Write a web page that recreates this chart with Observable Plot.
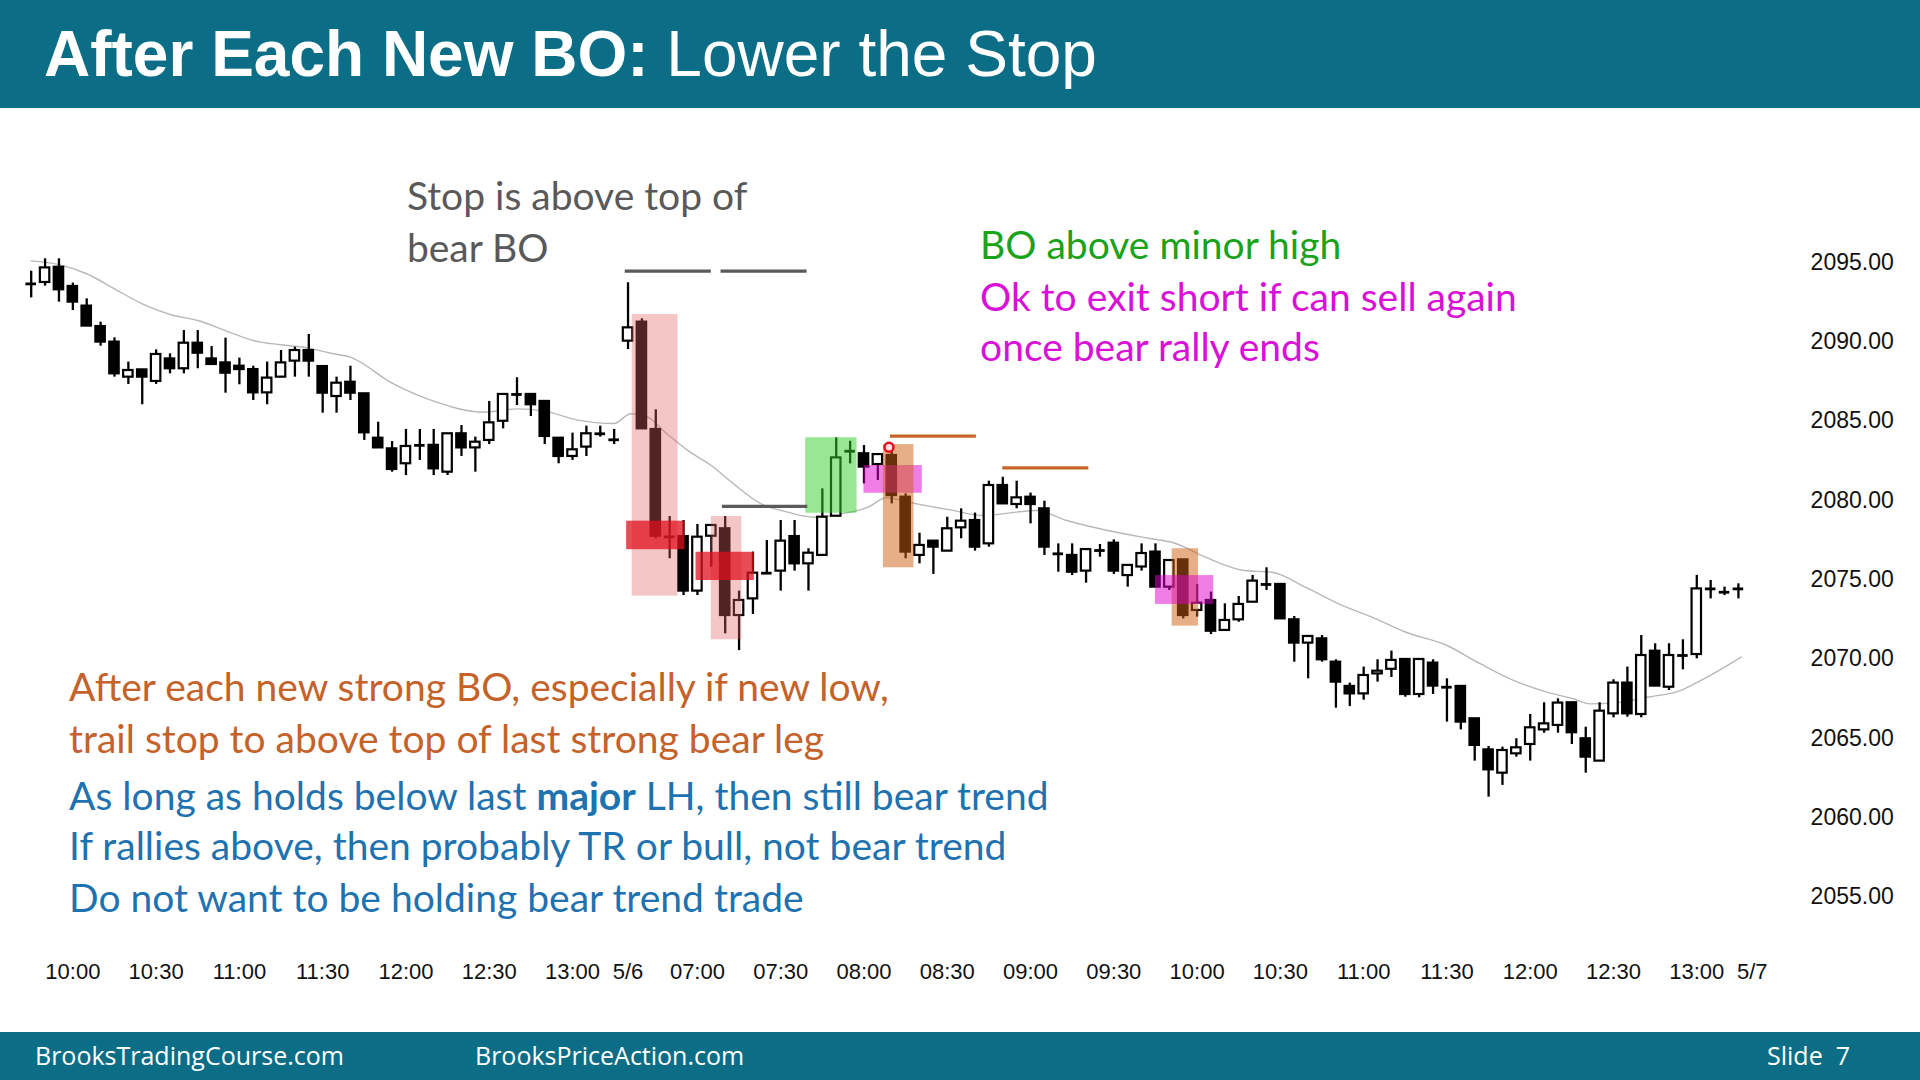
<!DOCTYPE html>
<html>
<head>
<meta charset="utf-8">
<script src="https://cdn.jsdelivr.net/npm/d3@7"></script>
<script src="https://cdn.jsdelivr.net/npm/@observablehq/plot@0.6"></script>
<style>
  html, body { margin: 0; padding: 0; width: 1920px; height: 1080px; overflow: hidden; background: #fff; }
  #title { position: absolute; left: 0; top: 0; width: 1920px; height: 108px; background: #0b6e86;
           color: #fff; font-family: "Liberation Sans", Arial, sans-serif; font-size: 64px;
           display: flex; align-items: center; box-sizing: border-box; padding-left: 44px; white-space: pre; }
  #title b { font-weight: bold; }
  #chart { position: absolute; left: 0; top: 108px; width: 1920px; height: 920px; }
  #footer { position: absolute; left: 0; top: 1032px; width: 1920px; height: 48px; background: #0b6e86;
            color: #fff; font-family: "Open Sans", sans-serif; font-size: 25px; }
  #footer span { position: absolute; top: 50%; transform: translateY(-54%); white-space: pre; }
</style>
</head>
<body>
<div id="title"><b>After Each New BO:</b> Lower the Stop</div>
<div id="chart"></div>
<div id="footer">
  <span style="left:35px">BrooksTradingCourse.com</span>
  <span style="left:475px">BrooksPriceAction.com</span>
  <span style="left:1767px">Slide  7</span>
</div>
<script>
// ---- OHLC of 5-minute bars (bar index 0..123) ----
const opens = [
  2093.65,2093.74,2094.70,2093.49,2092.25,2090.96,2089.98,2087.77,2088.23,2087.50,
  2088.92,2088.30,2089.91,2088.92,2088.67,2088.46,2088.25,2086.78,2087.77,2088.78,
  2089.45,2088.44,2086.55,2087.45,2086.72,2083.92,2083.25,2082.31,2083.47,2083.47,
  2081.78,2084.20,2083.31,2083.78,2084.99,2086.68,2086.68,2086.24,2083.92,2082.77,
  2083.36,2084.20,2083.82,
  2090.04,2091.24,2084.47,2077.70,2077.72,2074.28,2077.74,2078.21,2072.74,2073.79,
  2075.41,2075.54,2077.72,2076.00,2076.53,2079.00,2083.10,2082.94,2082.26,2082.83,
  2080.20,2076.53,2077.43,2076.80,2078.27,2078.73,2077.26,2080.94,2079.74,2080.20,
  2079.47,2076.63,2076.53,2075.54,2076.84,2077.30,2075.26,2075.80,2076.74,2074.53,
  2076.25,2073.06,2073.69,2071.80,2072.47,2073.58,2074.70,2074.70,2072.47,2071.00,
  2071.27,2069.80,2068.27,2067.80,2069.06,2069.35,2069.97,2067.76,2069.74,2068.22,
  2068.27,2066.23,2064.27,2062.80,2064.02,2064.61,2065.53,2065.81,2067.24,2064.97,
  2063.56,2066.54,2068.48,2066.50,2070.49,2068.22,2070.22,2070.28,2074.42,2074.21,
  2074.42
];
const highs = [
  2094.45,2095.23,2095.23,2093.70,2092.71,2091.24,2090.25,2088.72,2088.23,2089.49,
  2089.24,2090.71,2090.71,2089.70,2090.23,2088.97,2088.46,2088.72,2089.45,2089.66,
  2090.46,2088.44,2087.77,2088.46,2086.72,2084.93,2083.71,2084.47,2084.47,2084.47,
  2084.20,2084.72,2083.99,2086.24,2086.68,2087.73,2086.68,2086.24,2083.92,2084.24,
  2084.68,2084.68,2084.47,
  2093.72,2091.45,2085.71,2078.98,2078.73,2078.48,2078.42,2078.98,2074.28,2076.74,
  2077.47,2078.73,2078.73,2076.95,2080.73,2083.94,2083.73,2083.46,2082.89,2083.10,
  2080.41,2077.93,2077.43,2078.94,2079.47,2079.20,2081.21,2081.46,2081.21,2080.46,
  2079.95,2077.26,2077.26,2076.90,2077.22,2077.51,2075.90,2077.26,2077.26,2076.21,
  2076.25,2074.70,2074.22,2073.48,2073.94,2075.27,2075.75,2074.70,2072.68,2071.42,
  2071.48,2069.95,2068.48,2069.49,2069.95,2070.50,2069.97,2069.97,2069.95,2068.75,
  2068.27,2066.23,2064.48,2064.44,2064.97,2066.50,2067.24,2067.49,2067.24,2065.70,
  2067.24,2068.69,2069.49,2071.48,2070.96,2070.96,2071.21,2075.27,2074.95,2074.53,
  2074.74
];
const lows = [
  2092.77,2093.51,2092.50,2091.97,2090.99,2089.72,2087.77,2087.31,2086.03,2087.31,
  2087.98,2087.98,2088.30,2088.57,2086.76,2087.29,2086.30,2086.03,2087.77,2087.77,
  2087.77,2085.50,2085.50,2086.30,2083.78,2083.31,2081.78,2081.57,2082.52,2081.57,
  2081.57,2082.77,2081.78,2083.52,2084.51,2085.98,2085.29,2083.52,2082.31,2082.52,
  2082.77,2083.99,2083.52,
  2089.51,2084.51,2077.58,2076.32,2074.00,2074.00,2075.79,2071.59,2070.53,2072.81,
  2075.41,2074.28,2075.54,2074.28,2076.53,2079.00,2082.30,2081.04,2081.26,2079.78,
  2076.32,2076.00,2075.33,2076.80,2077.58,2076.80,2077.05,2079.78,2079.47,2078.52,
  2076.53,2075.47,2075.26,2074.78,2076.42,2075.33,2074.53,2075.54,2074.53,2074.32,
  2072.53,2072.64,2071.54,2071.80,2072.32,2073.58,2074.32,2072.53,2069.80,2068.75,
  2069.80,2066.90,2067.00,2067.40,2068.54,2068.83,2067.59,2067.55,2067.76,2066.02,
  2065.53,2063.56,2061.29,2062.03,2063.81,2063.56,2065.32,2065.32,2064.61,2062.80,
  2063.56,2066.29,2066.33,2066.29,2068.29,2068.01,2069.32,2070.01,2073.79,2074.00,
  2073.79
];
const closes = [
  2093.65,2094.66,2093.28,2092.50,2090.99,2089.98,2087.98,2088.19,2087.77,2089.20,
  2088.30,2089.91,2089.28,2088.57,2088.02,2088.25,2086.78,2087.71,2088.67,2089.45,
  2088.78,2086.76,2087.39,2086.76,2084.26,2083.31,2081.95,2083.40,2083.47,2081.99,
  2084.20,2083.31,2083.67,2084.89,2086.68,2086.68,2086.03,2084.03,2082.77,2083.19,
  2084.20,2084.20,2083.82,
  2090.88,2084.51,2077.74,2077.60,2074.28,2077.68,2078.42,2072.74,2073.69,2075.41,
  2075.45,2077.43,2076.00,2076.67,2078.94,2082.68,2083.20,2082.10,2082.89,2080.30,
  2076.74,2077.16,2077.05,2078.21,2078.69,2077.05,2080.94,2079.78,2080.16,2079.74,
  2077.05,2076.63,2075.47,2076.90,2076.84,2075.54,2075.90,2076.65,2074.53,2076.21,
  2072.74,2073.52,2071.75,2072.43,2073.44,2074.91,2074.70,2072.53,2071.00,2071.42,
  2069.95,2068.54,2067.80,2068.96,2069.23,2069.91,2067.76,2069.97,2068.29,2068.22,
  2066.02,2064.55,2063.01,2064.23,2064.40,2065.66,2065.91,2067.22,2065.35,2063.81,
  2066.71,2068.48,2066.54,2070.22,2068.29,2070.22,2070.22,2074.42,2074.42,2074.21,
  2074.42
];

// ---- moving average: [bar index, value] ----
const emaIdx = [0,2,4,6,8,10,12,14,16,18,20,21.6,23,26,29,32.6,35,37,39.3,42,43.2,44.2,45.8,47.3,49,50.6,52.6,54.5,56.4,58.3,60.3,61.6,63.8,66.2,68.6,71,72.4,74.6,77,79.4,80.6,82.4,84.6,87.4,89.4,91.8,94.2,96.6,99,102,104.4,106.8,109.2,111.1,112.3,114,116.4,118.8,120.3,123.2];
const emaVal = [2095.1,2094.87,2094.29,2093.34,2092.39,2091.72,2091.34,2090.71,2090.08,2089.81,2089.6,2089.28,2089.03,2087.39,2086.26,2085.56,2085.77,2085.63,2085.08,2084.85,2085.46,2085.35,2084.2,2083.15,2082.2,2081.04,2079.78,2079.26,2078.94,2079.15,2079.57,2080.17,2079.78,2079.4,2079.05,2079.26,2079.36,2078.73,2078.21,2077.79,2077.6,2077.3,2076.42,2075.58,2075.47,2074.53,2073.48,2072.64,2071.7,2070.85,2069.7,2068.65,2067.91,2067.49,2067.17,2067.22,2067.59,2068.01,2068.65,2070.12];

// ---- axis ticks ----
const xTickIdx = [3,9,15,21,27,33,39,43,48,54,60,66,72,78,84,90,96,102,108,114,120,124];
const xTickLabels = ["10:00","10:30","11:00","11:30","12:00","12:30","13:00","5/6","07:00","07:30","08:00","08:30","09:00","09:30","10:00","10:30","11:00","11:30","12:00","12:30","13:00","5/7"];
const yTicks = [2055,2060,2065,2070,2075,2080,2085,2090,2095];

// ---- highlight boxes (bar index span, price span) ----
const boxX1 = [43.3, 42.9, 49.0, 47.9, 55.8, 60.0, 61.4, 82.2, 81.0];
const boxX2 = [46.6, 47.1, 51.2, 52.1, 59.5, 64.2, 63.6, 84.1, 85.2];
const boxY1 = [2091.72, 2078.69, 2078.98, 2076.73, 2083.95, 2082.20, 2083.52, 2076.95, 2075.26];
const boxY2 = [2073.96, 2076.89, 2071.21, 2074.95, 2079.19, 2080.45, 2075.75, 2072.07, 2073.44];
const boxColor = ["#e06060","#e0101e","#e06060","#e0101e","#30d030","#e000d0","#d06010","#d06010","#e000d0"];
const boxOpacity = [0.36, 0.75, 0.36, 0.75, 0.5, 0.5, 0.5, 0.5, 0.5];

// ---- stop lines ----
const stopY = [2094.45, 2094.45, 2079.62, 2084.05, 2082.05];
const stopX1 = [42.8, 49.7, 49.8, 61.9, 70.0];
const stopX2 = [49.0, 55.9, 55.95, 68.1, 76.2];
const stopColor = ["#5a5a5a","#5a5a5a","#5a5a5a","#c8662a","#c8662a"];

// ---- entry marker ----
const markerIdx = [61.8];
const markerPrice = [2083.35];

// ---- annotations (one entry per line) ----
const noteText = [
  "Stop is above top of", "bear BO",
  "BO above minor high",
  "Ok to exit short if can sell again", "once bear rally ends",
  "After each new strong BO, especially if new low,", "trail stop to above top of last strong bear leg",
  "As long as holds below last major LH, then still bear trend",
  "If rallies above, then probably TR or bull, not bear trend",
  "Do not want to be holding bear trend trade"
];
const noteX = [27.07, 27.07, 68.36, 68.36, 68.36, 2.73, 2.73, 2.73, 2.73, 2.73];
const noteY = [2099.09, 2095.84, 2096.0, 2092.76, 2089.59, 2068.13, 2064.89, 2061.25, 2058.09, 2054.85];
const noteColor = ["#595959", "#595959", "#1aa31a", "#d810d8", "#d810d8", "#c5622a", "#c5622a", "#1f72b0", "#1f72b0", "#1f72b0"];

// ---------------------------------------------------------------
const bars = opens.map((o, i) => ({i, o, h: highs[i], l: lows[i], c: closes[i]}));
const ema = emaIdx.map((x, k) => ({x, y: emaVal[k]}));
const boxes = boxX1.map((x1, k) => ({x1, x2: boxX2[k], y1: boxY1[k], y2: boxY2[k], fill: boxColor[k], op: boxOpacity[k]}));
const stops = stopY.map((y, k) => ({y, x1: stopX1[k], x2: stopX2[k], stroke: stopColor[k]}));
const markers = markerIdx.map((x, k) => ({x, y: markerPrice[k]}));
const notes = noteText.map((t, k) => ({t, x: noteX[k], y: noteY[k], fill: noteColor[k]}));

const NOTE_FONT = "Lato, 'Open Sans', sans-serif";
const NOTE_SIZE = 39;

const chart = Plot.plot({
  width: 1920, height: 920,
  marginLeft: 16.82, marginRight: 109.9, marginTop: 74.7, marginBottom: 99.9,
  x: {domain: [-1, 128.2], label: null},
  y: {domain: [2053, 2100], label: null},
  style: {background: "transparent", overflow: "visible", fontFamily: "'Liberation Sans', Arial, sans-serif"},
  marks: [
    Plot.line(ema, {x: "x", y: "y", stroke: "#b8b8b8", strokeWidth: 1.4, curve: "monotone-x"}),
    Plot.ruleX(bars, {x: "i", y1: "l", y2: "h", stroke: "#000", strokeWidth: 2.3}),
    Plot.rect(bars, {filter: d => Math.abs(d.c - d.o) >= 0.1,
      x1: d => d.i - 0.34, x2: d => d.i + 0.34, y1: "o", y2: "c",
      fill: d => d.c < d.o ? "#000" : "#fff", stroke: "#000", strokeWidth: 2.2}),
    Plot.ruleY(bars, {filter: d => Math.abs(d.c - d.o) < 0.1,
      x1: d => d.i - 0.38, x2: d => d.i + 0.38, y: "o", stroke: "#000", strokeWidth: 2.8}),
    ...boxes.map(b => Plot.rect([b], {x1: "x1", x2: "x2", y1: "y1", y2: "y2", fill: b.fill, fillOpacity: b.op})),
    Plot.ruleY(stops, {y: "y", x1: "x1", x2: "x2", stroke: "stroke", strokeWidth: 3.2}),
    Plot.dot(markers, {x: "x", y: "y", r: 4.5, stroke: "#e8101e", strokeWidth: 2.6, fill: "#ffe0e0"}),
    Plot.text(notes, {x: "x", y: "y", text: "t", fill: "fill", textAnchor: "start", lineAnchor: "middle",
      fontSize: NOTE_SIZE, fontFamily: NOTE_FONT}),
    Plot.axisX(xTickIdx, {anchor: "bottom", tickSize: 0, tickPadding: 35.2, label: null,
      tickFormat: d => xTickLabels[xTickIdx.indexOf(d)], fontSize: 22, fill: "#111"}),
    Plot.axisY(yTicks, {anchor: "right", tickSize: 0, tickPadding: 0, label: null, textAnchor: "start",
      tickFormat: d => d.toFixed(2), fontSize: 23, fill: "#111"})
  ]
});
document.getElementById("chart").appendChild(chart);

// make the word "major" bold
chart.querySelectorAll("text, tspan").forEach(el => {
  if (el.children.length === 0 && el.textContent.includes("major")) {
    const [a, b] = el.textContent.split("major");
    el.textContent = "";
    const ns = "http://www.w3.org/2000/svg";
    const t1 = document.createElementNS(ns, "tspan"); t1.textContent = a;
    const t2 = document.createElementNS(ns, "tspan"); t2.textContent = "major"; t2.setAttribute("font-weight", "bold");
    const t3 = document.createElementNS(ns, "tspan"); t3.textContent = b;
    el.append(t1, t2, t3);
  }
});
</script>
</body>
</html>
